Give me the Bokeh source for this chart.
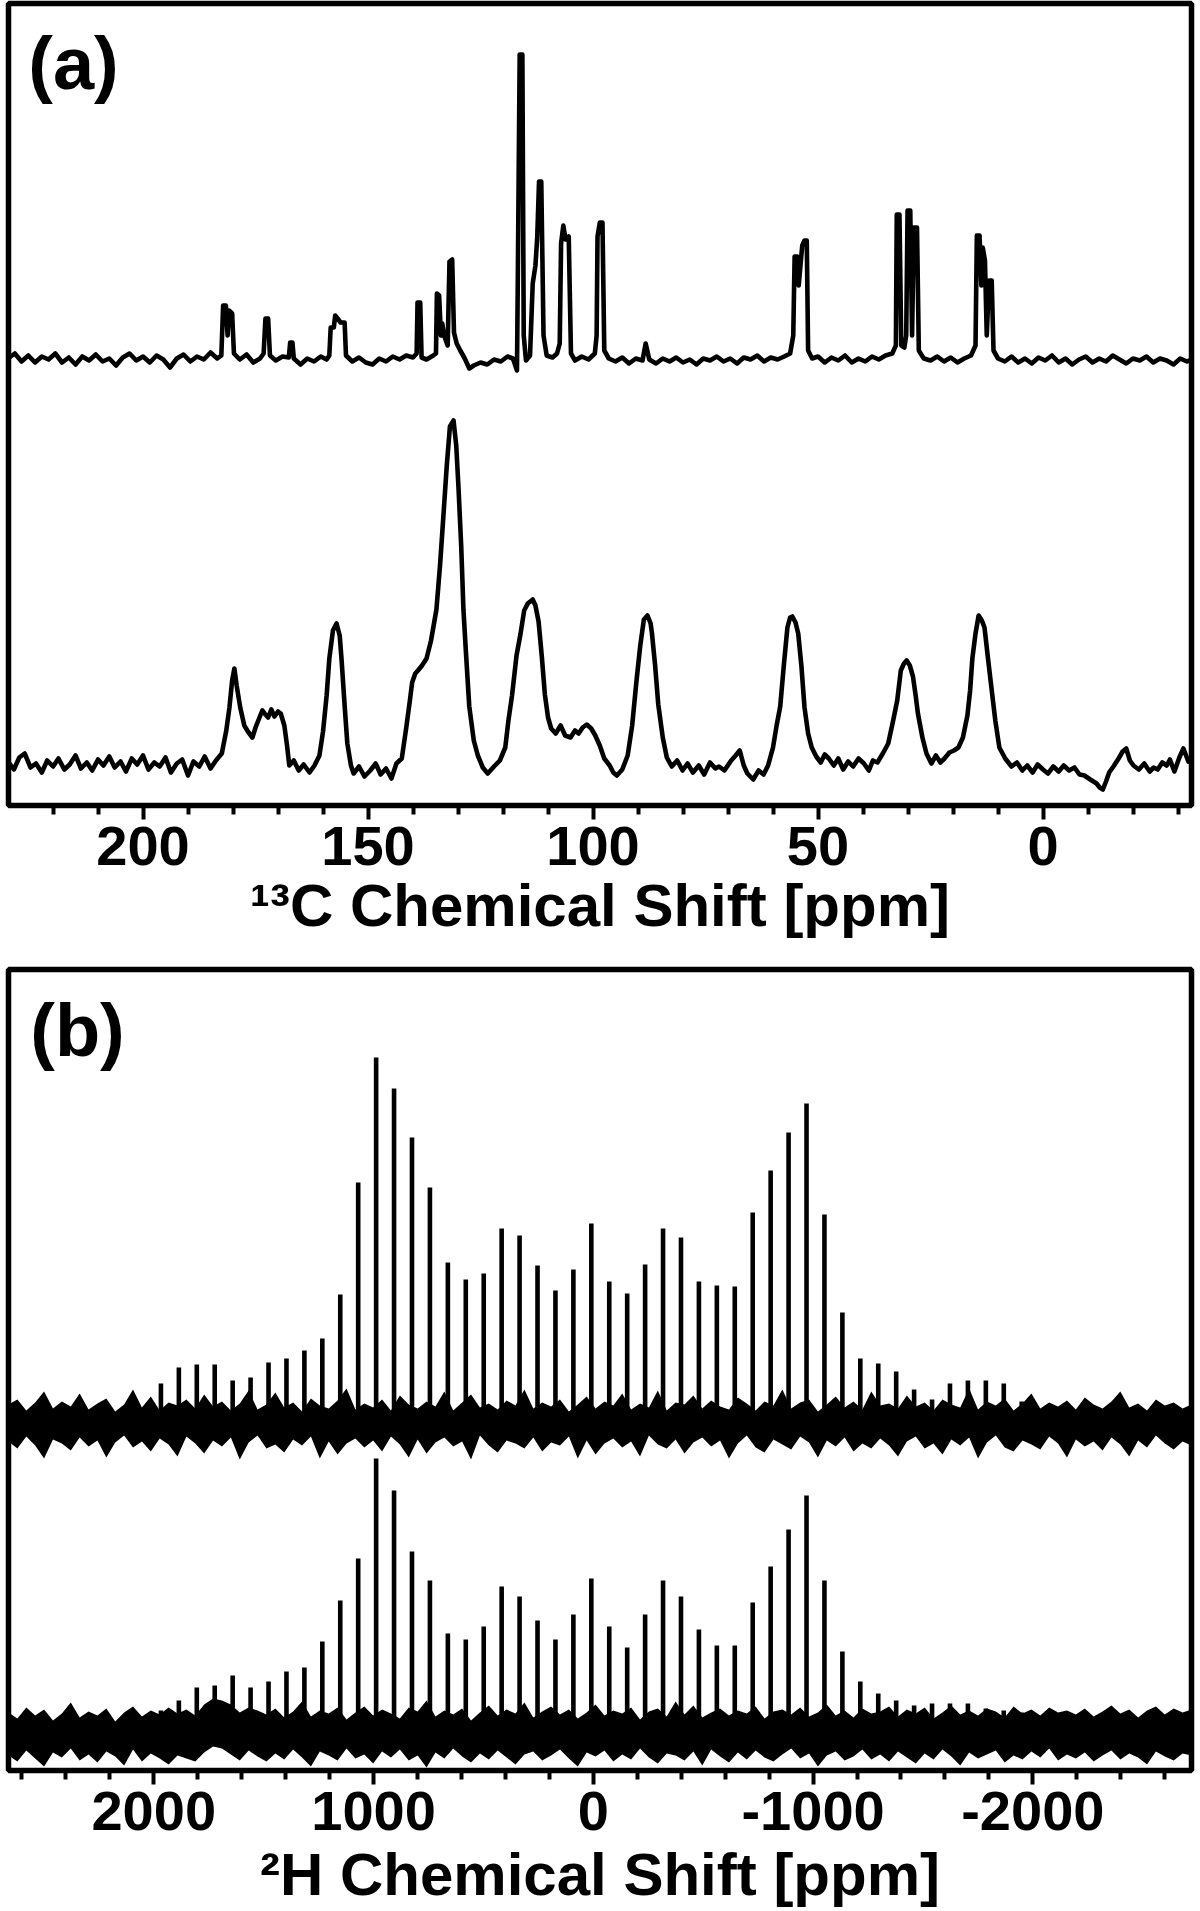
import numpy as np
from bokeh.plotting import figure
from bokeh.layouts import column
from bokeh.models import Range1d, FixedTicker, Label
from bokeh.embed import file_html
from bokeh.resources import INLINE

FONT = "Liberation Sans"

# ---------------- (a) 13C spectra: (ppm, intensity a.u.) ----------------
a_ticks = [200, 150, 100, 50, 0]
a_tick_labels = ["200", "150", "100", "50", "0"]
a_minor = [220, 210, 190, 180, 170, 160, 140, 130, 120, 110, 90, 80, 70, 60, 40, 30, 20, 10, -10, -20, -30]

a_top = [
    (230, 447), (228.5, 452), (227, 444), (225.5, 450), (224, 443), (222.5, 449), (221, 446), (219.5, 452),
    (218, 443), (216.5, 448), (215, 441), (213.5, 449), (212, 445), (210.5, 451), (209, 444), (207.5, 447),
    (206, 440), (204.5, 448), (203, 452), (201.5, 445), (200, 449), (198.5, 443), (197, 450), (195.5, 446),
    (194, 438), (192.5, 447), (191, 451), (189.5, 444), (188, 449), (186.5, 446), (185, 453), (183.5, 447),
    (182.6, 450), (182.2, 500), (181.6, 500), (181.2, 470), (180.9, 495), (180.2, 492), (179.8, 452),
    (178.5, 446), (177, 451), (175.5, 443), (174, 447),
    (173.2, 452), (172.8, 487), (172.2, 487), (171.8, 450),
    (170.5, 445), (169, 449),
    (167.6, 448), (167.3, 463), (166.8, 463), (166.5, 447),
    (165, 441), (163.5, 447), (162, 444), (160.5, 449), (159.2, 446),
    (158.6, 450), (158.3, 478), (157.6, 478), (157.3, 490), (156.6, 486), (156.1, 483), (155.2, 483), (154.9, 450),
    (153.5, 444), (152, 448), (150.5, 443), (149, 441), (147.5, 447), (146, 444), (144.5, 449), (143, 446),
    (141.5, 450), (140, 448),
    (139.2, 452), (139.0, 503), (138.4, 503), (138.1, 448),
    (137, 446), (135.5, 450),
    (134.9, 452), (134.7, 512), (134.2, 510), (133.8, 470), (133.5, 482), (133.1, 470), (132.3, 460),
    (131.9, 544), (131.3, 546), (130.9, 473), (130.3, 462), (129.5, 455), (128.5, 447), (127.5, 437),
    (126.5, 440), (125, 443), (123.5, 441), (122, 446), (120.5, 444), (119, 449), (117.8, 447), (116.9, 435),
    (116.7, 535), (116.3, 751), (115.7, 751), (115.4, 470), (114.9, 445), (114.0, 450),
    (113.4, 522), (112.8, 540), (112.4, 568), (112.0, 624), (111.5, 624), (111.0, 470), (110.3, 450),
    (109, 448), (108, 452),
    (107.4, 462), (107.1, 562), (106.6, 580), (106.1, 566), (105.4, 569), (104.9, 452), (104, 445),
    (102.5, 449), (101, 446), (99.6, 452),
    (99.2, 470), (99.0, 569), (98.5, 583), (97.9, 583), (97.5, 455), (96.5, 447), (95, 444), (93.5, 448),
    (92, 442), (90.5, 447), (89, 445), (88.3, 462), (87.5, 446), (86, 442), (84.5, 447), (83, 444),
    (81.5, 448), (80, 443), (78.5, 446), (77, 441), (75.5, 447), (74, 445), (72.5, 449), (71, 444),
    (69.5, 447), (68, 442), (66.5, 448), (65, 446), (63.5, 450), (62, 444), (60.5, 448), (59, 446),
    (57.5, 449), (56.2, 452),
    (55.5, 470), (55.2, 549), (54.6, 549), (54.3, 520), (53.5, 560), (53.0, 565), (52.5, 565), (52.2, 455),
    (51.3, 447), (50, 449), (48.5, 443), (47, 448), (45.5, 445), (44, 450), (42.5, 443), (41, 447),
    (39.5, 444), (38, 449), (36.5, 446), (35, 450), (33.5, 452),
    (32.7, 460), (32.5, 591), (31.9, 591), (31.5, 460), (30.8, 458),
    (30.4, 470), (30.1, 595), (29.5, 595), (29.1, 470), (28.7, 578), (28.0, 578), (27.6, 455),
    (26.5, 447), (25, 445), (23.5, 449), (22, 444), (20.5, 448), (19, 443), (17.5, 447), (16, 450),
    (15.0, 460), (14.7, 570), (14.1, 570), (13.7, 520), (13.4, 558), (12.9, 545), (12.5, 470), (12.0, 525),
    (11.4, 525), (11.0, 455),
    (10, 447), (8.5, 444), (7, 449), (5.5, 443), (4, 447), (2.5, 442), (1, 448), (-0.5, 445), (-2, 450),
    (-3.5, 443), (-5, 447), (-6.5, 441), (-8, 446), (-9.5, 449), (-11, 443), (-12.5, 447), (-14, 444),
    (-15.5, 450), (-17, 446), (-18.5, 442), (-20, 447), (-21.5, 445), (-23, 449), (-24.5, 443), (-26, 447),
    (-27.5, 445), (-29, 441), (-30.5, 447), (-32, 444), (-33, 446),
]

a_bottom = [
    (230, 44), (228.7, 36), (227.5, 48), (226.3, 52), (225, 38), (223.8, 42), (222.5, 33), (221.3, 45),
    (220, 39), (218.8, 47), (217.5, 36), (216.3, 41), (215, 50), (213.8, 37), (212.5, 43), (211.3, 35),
    (210, 46), (208.8, 40), (207.5, 49), (206.3, 38), (205, 44), (203.8, 34), (202.5, 47), (201.3, 41),
    (200, 50), (198.8, 36), (197.5, 43), (196.3, 39), (195, 48), (193.8, 33), (192.5, 42), (191.3, 46),
    (190, 30), (188.8, 44), (187.5, 39), (186.3, 49), (185, 37), (183.8, 45), (182.5, 52),
    (181.5, 75), (180.8, 98), (180.2, 125), (179.7, 137), (179.2, 120), (178.4, 98), (177.5, 80),
    (176.7, 74), (175.7, 68), (175.0, 78), (174.3, 86), (173.5, 95), (173.0, 92), (172.2, 88), (171.5, 96),
    (170.8, 89), (170.0, 94), (169.4, 92), (168.6, 80), (168.0, 60), (167.5, 40), (166.5, 45), (165.4, 35),
    (164.3, 41), (163.0, 33), (161.9, 40), (160.8, 50), (160.0, 74), (159.2, 110), (158.6, 147),
    (157.8, 175), (157.0, 182), (156.3, 170), (155.9, 147), (155.2, 100), (154.6, 62), (153.8, 40),
    (153.2, 32), (152.0, 39), (150.8, 29), (149.5, 35), (148.3, 42), (147.2, 31), (146.0, 37), (144.8, 27),
    (143.7, 42), (142.5, 47), (141.5, 78), (140.7, 105), (140.2, 123), (139.5, 132), (138.9, 135),
    (138.0, 140), (137.0, 147), (136.0, 165), (134.8, 196), (134.0, 240), (133.2, 293), (132.5, 340),
    (131.8, 379), (131.0, 385), (130.4, 360), (129.9, 318), (129.3, 260), (128.8, 196), (128.2, 150),
    (127.5, 99), (126.5, 65), (125.6, 50), (124.5, 38), (123.4, 32), (122.0, 39), (120.7, 45), (119.5, 58),
    (118.8, 85), (118.0, 110), (117.0, 150), (116.1, 172), (115.3, 195), (114.5, 202), (113.4, 206),
    (112.8, 200), (112.1, 184), (111.4, 150), (110.7, 111), (110.0, 88), (109.3, 77), (108.3, 72),
    (107.2, 80), (106.2, 70), (105.0, 68), (104.0, 75), (103.2, 72), (102.3, 78), (101.4, 81), (100.4, 77),
    (99.5, 70), (98.5, 60), (97.5, 47), (96.3, 40), (95.5, 33), (94.7, 30), (93.5, 36), (92.3, 50),
    (91.3, 80), (90.4, 122), (89.5, 160), (88.7, 186), (87.9, 190), (87.2, 182), (86.9, 172), (86.2, 140),
    (85.5, 101), (84.5, 68), (83.6, 48), (82.5, 39), (81.3, 45), (80.1, 35), (79.0, 42), (77.8, 33),
    (76.5, 40), (75.3, 31), (74.0, 43), (72.8, 37), (72.0, 39), (70.8, 35), (69.3, 45), (68.3, 50),
    (67.4, 55), (66.5, 40), (65.7, 32), (64.4, 26), (63.2, 35), (62.1, 31), (61.1, 40), (60.0, 58),
    (59.2, 80), (58.4, 99), (57.6, 140), (56.8, 178), (56.2, 188), (55.7, 189), (55.0, 183), (54.4, 172),
    (53.7, 140), (53.0, 98), (52.2, 72), (51.4, 58), (50.4, 49), (49.4, 43), (48.5, 51), (47.6, 47),
    (46.5, 40), (45.5, 47), (44.4, 36), (43.3, 44), (42.2, 39), (41.0, 47), (39.8, 42), (38.7, 35),
    (37.8, 45), (36.8, 43), (35.6, 52), (34.4, 62), (33.3, 85), (32.4, 105), (31.6, 135), (30.9, 142),
    (30.3, 145), (29.6, 140), (28.9, 129), (28.3, 110), (27.8, 92), (26.8, 68), (25.9, 52), (24.8, 42),
    (23.8, 50), (22.8, 43), (21.9, 47), (20.8, 53), (19.8, 55), (18.8, 58), (17.8, 68), (16.8, 90),
    (16.2, 115), (15.7, 147), (15.0, 172), (14.3, 190), (13.6, 185), (13.0, 178), (12.3, 150), (11.6, 123),
    (10.6, 85), (9.7, 58), (8.4, 47), (7.0, 39), (5.8, 43), (4.6, 35), (3.5, 40), (2.3, 33), (1.2, 41),
    (0.0, 36), (-1.1, 32), (-2.3, 39), (-3.5, 34), (-4.6, 40), (-5.8, 35), (-7.0, 38), (-8.1, 31),
    (-9.2, 30), (-10.5, 26), (-11.9, 22), (-12.6, 18), (-13.3, 16), (-14.0, 24), (-14.7, 33), (-15.8, 40),
    (-16.8, 47), (-17.7, 54), (-18.5, 57), (-19.3, 45), (-20.1, 40), (-21.3, 36), (-22.5, 42), (-23.7, 34),
    (-24.6, 38), (-25.5, 36), (-26.5, 43), (-27.5, 40), (-28.2, 46), (-29.2, 34), (-30.3, 48), (-31.2, 57),
    (-32.3, 44), (-33, 47),
]

# ---------------- (b) 2H spectra ----------------
b_ticks = [2000, 1000, 0, -1000, -2000]
b_tick_labels = ["2000", "1000", "0", "-1000", "-2000"]
b_minor = [2600, 2400, 2200, 1800, 1600, 1400, 1200, 800, 600, 400, 200, -200, -400, -600, -800,
           -1200, -1400, -1600, -1800, -2200, -2400, -2600]

b_sideband_ppm = [1967.4, 1885.8, 1804.2, 1722.6, 1641.0, 1559.4, 1477.8, 1396.2, 1314.6, 1233.0,
                  1151.4, 1069.8, 988.2, 906.6, 825.0, 743.4, 661.8, 580.2, 498.6, 417.0, 335.4,
                  253.8, 172.2, 90.6, 9.0, -72.6, -154.2, -235.8, -317.4, -399.0, -480.6, -562.2,
                  -643.8, -725.4, -807.0, -888.6, -970.2, -1051.8, -1133.4, -1215.0, -1296.6,
                  -1378.2, -1459.8, -1541.4, -1623.0, -1704.6, -1786.2, -1867.8, -1949.4]
b_top_peaks = [387, 403, 406, 406, 390, 393, 408, 412, 420, 432, 476, 588, 713, 682, 633, 583, 508,
               491, 497, 542, 535, 505, 480, 501, 547, 489, 477, 506, 542, 533, 489, 485, 484, 558,
               600, 638, 667, 556, 458, 412, 407, 399, 381, 371, 387, 390, 390, 387, 369]
b_bottom_peaks = [60, 70, 83, 85, 95, 83, 89, 99, 103, 129, 170, 212, 312, 280, 219, 190, 137, 131,
                  144, 184, 174, 150, 131, 156, 192, 144, 123, 156, 190, 174, 141, 125, 125, 168,
                  204, 241, 275, 190, 119, 89, 77, 70, 65, 67, 67, 67, 62, 60, 58]
b_top_base = 348
b_bottom_base = 37

# noise band envelopes, left (high ppm) to right
b_top_upper = [
    366, 371, 360, 368, 379, 362, 369, 364, 377, 361, 367, 372, 359, 366, 381, 363, 374, 360, 368, 365,
    371, 362, 376, 364, 369, 360, 367, 380, 361, 366, 378, 363, 368, 359, 372, 365, 362, 370, 382, 361,
    367, 363, 371, 360, 375, 366, 362, 369, 364, 379, 360, 368, 376, 363, 367, 361, 370, 365, 381, 362,
    368, 364, 371, 359, 366, 374, 362, 369, 365, 377, 361, 367, 363, 380, 360, 368, 366, 375, 362, 370,
    364, 361, 373, 367, 360, 369, 365, 381, 362, 368, 371, 359, 366, 374, 363, 369, 361, 379, 365, 367,
    362, 375, 364, 368, 360, 371, 366, 363, 382, 361, 369, 365, 372, 360, 367, 377, 362, 368, 364, 370,
    361, 373, 366, 362, 369, 379, 363, 367, 360, 371, 365, 368, 362, 366]
b_top_lower = [
    329, 322, 334, 325, 312, 331, 327, 320, 333, 324, 330, 313, 328, 335, 323, 329, 319, 332, 326, 314,
    334, 327, 317, 330, 324, 333, 311, 328, 335, 322, 326, 318, 331, 325, 334, 312, 329, 316, 327, 332,
    323, 330, 319, 334, 326, 313, 331, 317, 328, 333, 324, 329, 311, 335, 325, 318, 330, 327, 322, 333,
    319, 328, 325, 334, 312, 330, 316, 327, 332, 323, 329, 314, 335, 326, 322, 331, 317, 328, 333, 324,
    330, 312, 327, 335, 323, 318, 331, 326, 321, 334, 328, 313, 330, 324, 333, 319, 327, 322, 332, 325,
    314, 329, 334, 322, 327, 316, 331, 325, 333, 312, 328, 335, 323, 319, 330, 326, 321, 334, 327, 313,
    331, 324, 329, 320, 333, 326, 314, 330, 323, 335, 327, 321, 329, 325]
b_bottom_upper = [
    58, 52, 63, 55, 61, 50, 57, 68, 53, 59, 55, 62, 49, 58, 64, 54, 60, 56, 63, 57,
    61, 55, 66, 72, 70, 66, 58, 63, 60, 56, 62, 53, 59, 69, 54, 60, 57, 63, 51, 58,
    64, 55, 61, 57, 52, 63, 59, 70, 54, 60, 56, 62, 50, 58, 65, 55, 61, 57, 68, 53,
    59, 64, 56, 61, 52, 58, 66, 55, 60, 57, 63, 51, 59, 62, 54, 69, 56, 65, 53, 58,
    62, 55, 60, 57, 64, 52, 59, 61, 56, 63, 54, 58, 66, 55, 60, 53, 62, 57, 59, 64,
    54, 61, 57, 63, 52, 58, 65, 56, 60, 55, 62, 59, 53, 64, 57, 61, 55, 63, 58, 60,
    56, 62, 54, 59, 65, 57, 61, 53, 60, 64, 56, 62, 58, 61]
b_bottom_lower = [
    15, 9, 20, 12, 4, 18, 13, 22, 10, 16, 8, 19, 14, 5, 21, 9, 17, 12, 6, 15,
    12, 9, 18, 24, 22, 16, 10, 20, 14, 9, 17, 11, 21, 13, 4, 19, 15, 10, 22, 12,
    16, 7, 19, 13, 21, 10, 15, 3, 18, 12, 22, 14, 8, 17, 11, 20, 13, 6, 16, 19,
    10, 15, 21, 12, 4, 18, 14, 20, 9, 16, 11, 22, 13, 7, 17, 15, 10, 19, 5, 21,
    14, 8, 18, 11, 20, 13, 9, 16, 22, 12, 17, 4, 15, 19, 10, 14, 21, 11, 16, 9,
    19, 13, 7, 17, 11, 21, 14, 5, 18, 12, 16, 20, 8, 15, 11, 19, 13, 22, 10, 16,
    12, 18, 9, 15, 20, 11, 17, 13, 6, 19, 14, 10, 17, 15]

# ---------------- layout constants (the page has no body margin) ----------------
A_XR = (229.9, -33.0)
B_XR = (2661.0, -2722.0)
W = 1200


def make_fig(xr, yr, height, borders, ticks, labels, minor, title, label_standoff, title_standoff):
    left, right, top, bottom = borders
    p = figure(width=W, height=height, output_backend="svg", toolbar_location=None,
               x_range=Range1d(*xr), y_range=Range1d(*yr), y_axis_location=None,
               min_border_left=left, min_border_right=right, min_border_top=top,
               min_border_bottom=bottom)
    p.grid.visible = False
    p.outline_line_color = "black"
    p.outline_line_width = 5.5
    p.background_fill_color = "white"
    p.border_fill_color = "white"
    ax = p.xaxis[0]
    ax.ticker = FixedTicker(ticks=ticks, minor_ticks=minor)
    ax.major_label_overrides = {t: l for t, l in zip(ticks, labels)}
    ax.axis_line_color = None
    ax.major_tick_out = 14
    ax.major_tick_in = 0
    ax.minor_tick_out = 9
    ax.minor_tick_in = 0
    ax.major_tick_line_width = 4
    ax.minor_tick_line_width = 4
    ax.major_tick_line_color = "black"
    ax.minor_tick_line_color = "black"
    ax.major_label_text_font = FONT
    ax.major_label_text_font_style = "bold"
    ax.major_label_text_font_size = "56px"
    ax.major_label_text_color = "black"
    ax.major_label_standoff = label_standoff
    ax.axis_label = title
    ax.axis_label_text_font = FONT
    ax.axis_label_text_font_style = "bold"
    ax.axis_label_text_font_size = "60px"
    ax.axis_label_text_color = "black"
    ax.axis_label_standoff = title_standoff
    return p


# ---- panel (a) ----
pa = make_fig(A_XR, (0, 802), 966, (8, 9, 3, 161), a_ticks, a_tick_labels, a_minor,
              "\u00b9\u00b3C Chemical Shift [ppm]", 7, 4)
pa.line([v[0] for v in a_top], [v[1] for v in a_top], line_color="black", line_width=4.6,
        line_join="round")
pa.line([v[0] for v in a_bottom], [v[1] for v in a_bottom], line_color="black", line_width=4.6,
        line_join="round")
pa.add_layout(Label(x=225.5, y=742, text="(a)", text_font=FONT, text_font_style="bold",
                    text_font_size="74px", text_color="black", text_baseline="middle"))

# ---- panel (b) ----
pb = make_fig(B_XR, (0, 801), 945, (4, 8, 3, 141), b_ticks, b_tick_labels, b_minor,
              "\u00b2H Chemical Shift [ppm]", 7, 8)
n_t = min(len(b_top_upper), len(b_top_lower))
n_b = min(len(b_bottom_upper), len(b_bottom_lower))
grid_t = np.linspace(B_XR[0], B_XR[1], n_t)
grid_b = np.linspace(B_XR[0], B_XR[1], n_b)
pb.varea(x=grid_t, y1=b_top_lower[:n_t], y2=b_top_upper[:n_t], fill_color="black")
pb.varea(x=grid_b, y1=b_bottom_lower[:n_b], y2=b_bottom_upper[:n_b], fill_color="black")
pb.segment(x0=b_sideband_ppm, y0=[b_top_base] * len(b_sideband_ppm), x1=b_sideband_ppm,
           y1=b_top_peaks, line_color="black", line_width=4.6)
pb.segment(x0=b_sideband_ppm, y0=[b_bottom_base] * len(b_sideband_ppm), x1=b_sideband_ppm,
           y1=b_bottom_peaks, line_color="black", line_width=4.6)
pb.add_layout(Label(x=2562, y=740, text="(b)", text_font=FONT, text_font_style="bold",
                    text_font_size="74px", text_color="black", text_baseline="middle"))

layout = column(pa, pb, spacing=0)
open("out.html", "w").write(file_html(layout, INLINE))
